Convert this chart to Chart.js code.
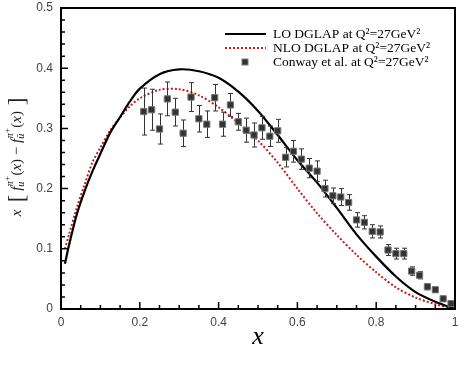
<!DOCTYPE html>
<html>
<head>
<meta charset="utf-8">
<script src="https://cdn.jsdelivr.net/npm/chart.js@4.4.0/dist/chart.umd.min.js"></script>
<style>
    html, body { margin: 0; padding: 0; background: #fff; }
    #wrap { width: 463px; height: 371px; }
</style>
</head>
<body>
<div id="wrap"><canvas id="chart" width="463" height="371"></canvas></div>
<script>
// theory curves
const curveX = [0.01, 0.02, 0.04, 0.06, 0.08, 0.10, 0.125, 0.15, 0.175, 0.20, 0.25, 0.30, 0.35, 0.40,
                0.45, 0.50, 0.55, 0.60, 0.65, 0.70, 0.75, 0.80, 0.85, 0.90, 0.95, 1.00];
const loY  = [0.075, 0.105, 0.157, 0.196, 0.229, 0.258, 0.293, 0.319, 0.345, 0.366, 0.390, 0.398, 0.395, 0.384,
              0.361, 0.329, 0.289, 0.247, 0.210, 0.168, 0.124, 0.087, 0.054, 0.028, 0.012, 0.000];
const nloY = [0.100, 0.123, 0.168, 0.207, 0.244, 0.268, 0.297, 0.318, 0.337, 0.350, 0.364, 0.365, 0.355, 0.335,
              0.309, 0.280, 0.243, 0.200, 0.159, 0.123, 0.090, 0.061, 0.036, 0.019, 0.008, 0.000];

// Conway et al. data
const dataX = [0.21, 0.23, 0.25, 0.27, 0.29, 0.31, 0.33, 0.35, 0.37, 0.39,
               0.41, 0.43, 0.45, 0.47, 0.49, 0.51, 0.53, 0.55, 0.57, 0.59,
               0.61, 0.63, 0.65, 0.67, 0.69, 0.71, 0.73, 0.75, 0.77, 0.79,
               0.81, 0.83, 0.85, 0.87, 0.89, 0.91, 0.93, 0.95, 0.97, 0.99];
const dataY = [0.328, 0.331, 0.299, 0.349, 0.327, 0.292, 0.352, 0.316, 0.307, 0.351,
               0.307, 0.339, 0.311, 0.297, 0.289, 0.301, 0.287, 0.296, 0.252, 0.262,
               0.249, 0.234, 0.229, 0.200, 0.188, 0.186, 0.177, 0.148, 0.144, 0.129,
               0.128, 0.098, 0.092, 0.092, 0.063, 0.056, 0.037, 0.032, 0.017, 0.009];
const dataErr = [0.039, 0.034, 0.025, 0.028, 0.023, 0.022, 0.024, 0.022, 0.022, 0.022,
                 0.020, 0.019, 0.014, 0.020, 0.020, 0.019, 0.017, 0.019, 0.016, 0.018,
                 0.017, 0.016, 0.017, 0.014, 0.013, 0.014, 0.013, 0.012, 0.011, 0.011,
                 0.010, 0.009, 0.009, 0.009, 0.007, 0.006, 0.005, 0.004, 0.003, 0.002];

const legendLabels = ['LO DGLAP at Q\u00b2=27GeV\u00b2', 'NLO DGLAP at Q\u00b2=27GeV\u00b2', 'Conway et al. at Q\u00b2=27GeV\u00b2'];

const RED = '#b8231d';
const SERIF = '"Liberation Serif", "Times New Roman", serif';

const toPoints = (xs, ys) => xs.map((x, i) => ({ x: x, y: ys[i] }));

// error bars under the markers
const errorBars = {
    id: 'errorBars',
    beforeDatasetDraw(chart, args) {
        if (args.index !== 2) return;
        const { ctx, scales: { x, y } } = chart;
        ctx.save();
        ctx.strokeStyle = '#333';
        ctx.lineWidth = 1;
        dataX.forEach((v, i) => {
            const px = Math.round(x.getPixelForValue(v)) + 0.5;
            const top = y.getPixelForValue(dataY[i] + dataErr[i]);
            const bot = y.getPixelForValue(dataY[i] - dataErr[i]);
            ctx.beginPath();
            ctx.moveTo(px, top); ctx.lineTo(px, bot);
            ctx.moveTo(px - 2.5, top); ctx.lineTo(px + 2.5, top);
            ctx.moveTo(px - 2.5, bot); ctx.lineTo(px + 2.5, bot);
            ctx.stroke();
        });
        ctx.restore();
    }
};

// frame, inward ticks, axis titles, legend
const decorations = {
    id: 'decorations',
    afterDraw(chart) {
        const { ctx, chartArea: a, scales: { x, y } } = chart;
        ctx.save();
        ctx.strokeStyle = '#000';

        // ticks
        ctx.lineWidth = 1.5;
        ctx.beginPath();
        for (let i = 0; i <= 20; i++) {
            const px = x.getPixelForValue(i * 0.05);
            const len = i % 4 === 0 ? 7 : 4;
            ctx.moveTo(px, a.bottom); ctx.lineTo(px, a.bottom - len);
        }
        for (let i = 0; i <= 25; i++) {
            const py = y.getPixelForValue(i * 0.02);
            const len = i % 5 === 0 ? 7 : 4;
            ctx.moveTo(a.left, py); ctx.lineTo(a.left + len, py);
        }
        ctx.stroke();

        // frame
        ctx.lineWidth = 2;
        ctx.strokeRect(a.left, a.top, a.right - a.left, a.bottom - a.top);

        // x title
        ctx.fillStyle = '#000';
        ctx.font = 'italic 26px ' + SERIF;
        ctx.textAlign = 'center';
        ctx.textBaseline = 'alphabetic';
        ctx.fillText('x', (a.left + a.right) / 2, 344);

        // y title, drawn run by run
        const F = 15, S = 10;
        const runs = [
            { t: 'x', f: 'italic ' + F + 'px', dy: 0 },
            { t: '  ', f: F + 'px', dy: 0 },
            { t: '[', f: '23px', dy: 3 },
            { t: ' f', f: 'italic ' + F + 'px', dy: 0 },
            { sup: ['\u03c0', '+'], sub: 'u' },
            { t: '(', f: F + 'px', dy: 0 },
            { t: 'x', f: 'italic ' + F + 'px', dy: 0 },
            { t: ')', f: F + 'px', dy: 0 },
            { t: ' \u2212 ', f: F + 'px', dy: 0 },
            { t: 'f', f: 'italic ' + F + 'px', dy: 0 },
            { sup: ['\u03c0', '+'], sub: '\u016b' },
            { t: '(', f: F + 'px', dy: 0 },
            { t: 'x', f: 'italic ' + F + 'px', dy: 0 },
            { t: ')', f: F + 'px', dy: 0 },
            { t: ' ]', f: '23px', dy: 3 }
        ];
        const width = (r) => {
            if (r.sup) {
                ctx.font = 'italic ' + S + 'px ' + SERIF;
                const w1 = ctx.measureText(r.sup[0]).width;
                ctx.font = (S - 1) + 'px ' + SERIF;
                const w2 = ctx.measureText(r.sup[1]).width;
                ctx.font = 'italic ' + S + 'px ' + SERIF;
                const w3 = ctx.measureText(r.sub).width;
                return Math.max(w1 + w2, w3) + 1;
            }
            ctx.font = r.f + ' ' + SERIF;
            return ctx.measureText(r.t).width;
        };
        const total = runs.reduce((s, r) => s + width(r), 0);
        ctx.translate(21, 157);
        ctx.rotate(-Math.PI / 2);
        ctx.textAlign = 'left';
        ctx.fillStyle = '#222';
        let cx = -total / 2;
        runs.forEach(r => {
            const w = width(r);
            if (r.sup) {
                ctx.font = 'italic ' + S + 'px ' + SERIF;
                ctx.fillText(r.sup[0], cx + 0.5, -8);
                const w1 = ctx.measureText(r.sup[0]).width;
                ctx.font = (S - 1) + 'px ' + SERIF;
                ctx.fillText(r.sup[1], cx + 0.5 + w1, -11);
                ctx.font = 'italic ' + S + 'px ' + SERIF;
                ctx.fillText(r.sub, cx, 3);
            } else {
                ctx.font = r.f + ' ' + SERIF;
                ctx.fillText(r.t, cx, r.dy);
            }
            cx += w;
        });
        ctx.setTransform(1, 0, 0, 1, 0, 0);

        // legend
        const lx0 = 225, lx1 = 266, tx = 273;
        const rows = [34, 48, 62];
        ctx.lineWidth = 2;
        ctx.strokeStyle = '#000';
        ctx.beginPath(); ctx.moveTo(lx0, rows[0]); ctx.lineTo(lx1, rows[0]); ctx.stroke();
        ctx.strokeStyle = RED;
        ctx.setLineDash([2, 2]);
        ctx.beginPath(); ctx.moveTo(lx0, rows[1]); ctx.lineTo(lx1, rows[1]); ctx.stroke();
        ctx.setLineDash([]);
        ctx.fillStyle = '#333';
        ctx.strokeStyle = '#777';
        ctx.lineWidth = 1;
        ctx.fillRect(242, rows[2] - 3, 6, 6);
        ctx.strokeRect(242, rows[2] - 3, 6, 6);

        ctx.fillStyle = '#000';
        ctx.font = '13.5px ' + SERIF;
        ctx.textBaseline = 'middle';
        legendLabels.forEach((t, i) => ctx.fillText(t, tx, rows[i]));
        ctx.restore();
    }
};

const tickFont = { family: '"Liberation Sans", Arial, sans-serif', size: 12 };

new Chart(document.getElementById('chart'), {
    type: 'scatter',
    data: {
        datasets: [
            {
                label: legendLabels[0],
                data: toPoints(curveX, loY),
                showLine: true,
                borderColor: '#000',
                borderWidth: 2.2,
                pointRadius: 0,
                tension: 0.3,
                order: 2
            },
            {
                label: legendLabels[1],
                data: toPoints(curveX, nloY),
                showLine: true,
                borderColor: RED,
                borderWidth: 2,
                borderDash: [2, 2],
                pointRadius: 0,
                tension: 0.3,
                order: 3
            },
            {
                label: legendLabels[2],
                data: toPoints(dataX, dataY),
                showLine: false,
                pointStyle: 'rect',
                pointRadius: 4.4,
                backgroundColor: '#333',
                borderColor: '#777',
                borderWidth: 1,
                order: 1
            }
        ]
    },
    options: {
        responsive: false,
        animation: false,
        layout: { padding: { top: 8, right: 8, left: 0, bottom: 0 } },
        plugins: {
            legend: { display: false },
            tooltip: { enabled: false }
        },
        scales: {
            x: {
                type: 'linear',
                min: 0,
                max: 1,
                grid: { display: false, drawTicks: false },
                border: { display: false },
                ticks: {
                    stepSize: 0.2,
                    padding: 6,
                    color: '#444',
                    font: tickFont,
                    maxRotation: 0,
                    callback: (v) => +v.toFixed(1) + ''
                },
                afterFit: (s) => { s.height = 62; s.paddingRight = 0; s.paddingLeft = 0; }
            },
            y: {
                type: 'linear',
                min: 0,
                max: 0.5,
                grid: { display: false, drawTicks: false },
                border: { display: false },
                ticks: {
                    stepSize: 0.1,
                    padding: 8,
                    color: '#444',
                    font: tickFont,
                    callback: (v) => +v.toFixed(1) + ''
                },
                afterFit: (s) => { s.width = 61; s.paddingTop = 0; s.paddingBottom = 0; }
            }
        }
    },
    plugins: [errorBars, decorations]
});
</script>
</body>
</html>
